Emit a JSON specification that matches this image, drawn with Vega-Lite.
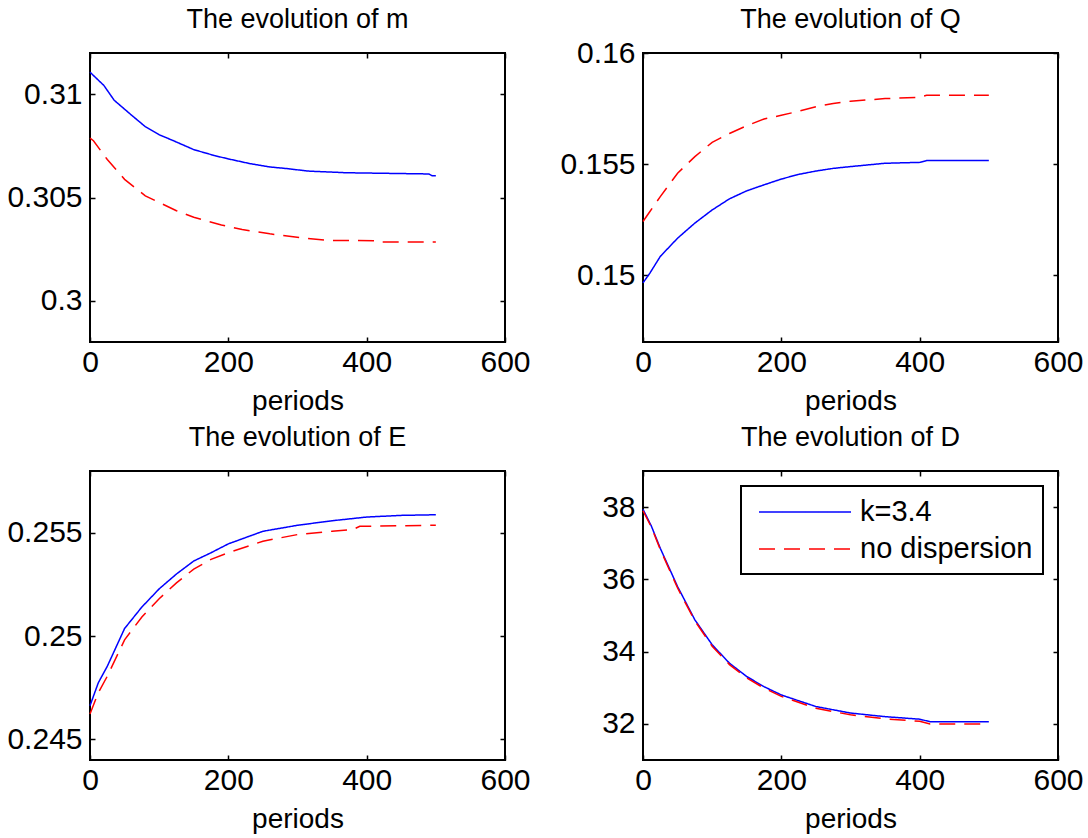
{
  "$schema": "https://vega.github.io/schema/vega-lite/v6.json",
  "background": "white",
  "padding": {"left": 5, "top": 5, "right": 5, "bottom": 2},
  "data": {"values": [
    {"v":"m","s":"k=3.4","t":0,"y":0.31107},{"v":"m","s":"k=3.4","t":20,"y":0.31043},{"v":"m","s":"k=3.4","t":35,"y":0.30971},{"v":"m","s":"k=3.4","t":60,"y":0.30899},{"v":"m","s":"k=3.4","t":80,"y":0.30843},{"v":"m","s":"k=3.4","t":100,"y":0.30804},{"v":"m","s":"k=3.4","t":120,"y":0.30776},{"v":"m","s":"k=3.4","t":150,"y":0.30732},{"v":"m","s":"k=3.4","t":180,"y":0.30703},{"v":"m","s":"k=3.4","t":200,"y":0.30687},{"v":"m","s":"k=3.4","t":230,"y":0.30665},{"v":"m","s":"k=3.4","t":260,"y":0.30648},{"v":"m","s":"k=3.4","t":285,"y":0.3064},{"v":"m","s":"k=3.4","t":315,"y":0.30628},{"v":"m","s":"k=3.4","t":370,"y":0.3062},{"v":"m","s":"k=3.4","t":490,"y":0.30614},{"v":"m","s":"k=3.4","t":495,"y":0.30605},{"v":"m","s":"k=3.4","t":500,"y":0.30605},
    {"v":"m","s":"no dispersion","t":0,"y":0.30788},{"v":"m","s":"no dispersion","t":5,"y":0.30775},{"v":"m","s":"no dispersion","t":25,"y":0.30684},{"v":"m","s":"no dispersion","t":50,"y":0.30588},{"v":"m","s":"no dispersion","t":80,"y":0.30508},{"v":"m","s":"no dispersion","t":100,"y":0.30476},{"v":"m","s":"no dispersion","t":125,"y":0.30436},{"v":"m","s":"no dispersion","t":150,"y":0.30404},{"v":"m","s":"no dispersion","t":190,"y":0.30367},{"v":"m","s":"no dispersion","t":220,"y":0.30345},{"v":"m","s":"no dispersion","t":260,"y":0.30324},{"v":"m","s":"no dispersion","t":305,"y":0.30305},{"v":"m","s":"no dispersion","t":345,"y":0.30292},{"v":"m","s":"no dispersion","t":415,"y":0.30291},{"v":"m","s":"no dispersion","t":420,"y":0.30284},{"v":"m","s":"no dispersion","t":500,"y":0.30284},
    {"v":"Q","s":"k=3.4","t":0,"y":0.14966},{"v":"Q","s":"k=3.4","t":10,"y":0.1501},{"v":"Q","s":"k=3.4","t":25,"y":0.15085},{"v":"Q","s":"k=3.4","t":50,"y":0.15167},{"v":"Q","s":"k=3.4","t":75,"y":0.15235},{"v":"Q","s":"k=3.4","t":100,"y":0.15294},{"v":"Q","s":"k=3.4","t":125,"y":0.15344},{"v":"Q","s":"k=3.4","t":150,"y":0.1538},{"v":"Q","s":"k=3.4","t":175,"y":0.15407},{"v":"Q","s":"k=3.4","t":200,"y":0.15433},{"v":"Q","s":"k=3.4","t":225,"y":0.15454},{"v":"Q","s":"k=3.4","t":250,"y":0.15469},{"v":"Q","s":"k=3.4","t":275,"y":0.15481},{"v":"Q","s":"k=3.4","t":300,"y":0.15489},{"v":"Q","s":"k=3.4","t":350,"y":0.15504},{"v":"Q","s":"k=3.4","t":400,"y":0.15508},{"v":"Q","s":"k=3.4","t":410,"y":0.15516},{"v":"Q","s":"k=3.4","t":500,"y":0.15517},
    {"v":"Q","s":"no dispersion","t":0,"y":0.15242},{"v":"Q","s":"no dispersion","t":10,"y":0.15287},{"v":"Q","s":"no dispersion","t":25,"y":0.15354},{"v":"Q","s":"no dispersion","t":50,"y":0.15459},{"v":"Q","s":"no dispersion","t":75,"y":0.15534},{"v":"Q","s":"no dispersion","t":100,"y":0.15598},{"v":"Q","s":"no dispersion","t":125,"y":0.15638},{"v":"Q","s":"no dispersion","t":150,"y":0.15673},{"v":"Q","s":"no dispersion","t":175,"y":0.15703},{"v":"Q","s":"no dispersion","t":200,"y":0.1572},{"v":"Q","s":"no dispersion","t":225,"y":0.15738},{"v":"Q","s":"no dispersion","t":250,"y":0.15758},{"v":"Q","s":"no dispersion","t":275,"y":0.15773},{"v":"Q","s":"no dispersion","t":300,"y":0.15783},{"v":"Q","s":"no dispersion","t":350,"y":0.15795},{"v":"Q","s":"no dispersion","t":400,"y":0.158},{"v":"Q","s":"no dispersion","t":410,"y":0.1581},{"v":"Q","s":"no dispersion","t":500,"y":0.1581},
    {"v":"E","s":"k=3.4","t":0,"y":0.24663},{"v":"E","s":"k=3.4","t":12,"y":0.24774},{"v":"E","s":"k=3.4","t":25,"y":0.24854},{"v":"E","s":"k=3.4","t":50,"y":0.25037},{"v":"E","s":"k=3.4","t":75,"y":0.25141},{"v":"E","s":"k=3.4","t":100,"y":0.25229},{"v":"E","s":"k=3.4","t":125,"y":0.25301},{"v":"E","s":"k=3.4","t":150,"y":0.25364},{"v":"E","s":"k=3.4","t":175,"y":0.25404},{"v":"E","s":"k=3.4","t":200,"y":0.25447},{"v":"E","s":"k=3.4","t":250,"y":0.25508},{"v":"E","s":"k=3.4","t":300,"y":0.25537},{"v":"E","s":"k=3.4","t":350,"y":0.25559},{"v":"E","s":"k=3.4","t":400,"y":0.25577},{"v":"E","s":"k=3.4","t":450,"y":0.25585},{"v":"E","s":"k=3.4","t":500,"y":0.25588},
    {"v":"E","s":"no dispersion","t":0,"y":0.24623},{"v":"E","s":"no dispersion","t":12,"y":0.24726},{"v":"E","s":"no dispersion","t":25,"y":0.24806},{"v":"E","s":"no dispersion","t":50,"y":0.24982},{"v":"E","s":"no dispersion","t":75,"y":0.25093},{"v":"E","s":"no dispersion","t":100,"y":0.25181},{"v":"E","s":"no dispersion","t":125,"y":0.25258},{"v":"E","s":"no dispersion","t":150,"y":0.25325},{"v":"E","s":"no dispersion","t":175,"y":0.25372},{"v":"E","s":"no dispersion","t":200,"y":0.25404},{"v":"E","s":"no dispersion","t":250,"y":0.2546},{"v":"E","s":"no dispersion","t":300,"y":0.25492},{"v":"E","s":"no dispersion","t":350,"y":0.25508},{"v":"E","s":"no dispersion","t":380,"y":0.25516},{"v":"E","s":"no dispersion","t":390,"y":0.25532},{"v":"E","s":"no dispersion","t":500,"y":0.25537},
    {"v":"D","s":"k=3.4","t":0,"y":37.94},{"v":"D","s":"k=3.4","t":12,"y":37.48},{"v":"D","s":"k=3.4","t":25,"y":36.86},{"v":"D","s":"k=3.4","t":50,"y":35.8},{"v":"D","s":"k=3.4","t":75,"y":34.88},{"v":"D","s":"k=3.4","t":100,"y":34.19},{"v":"D","s":"k=3.4","t":125,"y":33.68},{"v":"D","s":"k=3.4","t":150,"y":33.31},{"v":"D","s":"k=3.4","t":175,"y":33.03},{"v":"D","s":"k=3.4","t":200,"y":32.8},{"v":"D","s":"k=3.4","t":250,"y":32.48},{"v":"D","s":"k=3.4","t":300,"y":32.3},{"v":"D","s":"k=3.4","t":350,"y":32.2},{"v":"D","s":"k=3.4","t":400,"y":32.13},{"v":"D","s":"k=3.4","t":415,"y":32.06},{"v":"D","s":"k=3.4","t":500,"y":32.06},
    {"v":"D","s":"no dispersion","t":0,"y":37.9},{"v":"D","s":"no dispersion","t":12,"y":37.45},{"v":"D","s":"no dispersion","t":25,"y":36.83},{"v":"D","s":"no dispersion","t":50,"y":35.76},{"v":"D","s":"no dispersion","t":75,"y":34.85},{"v":"D","s":"no dispersion","t":100,"y":34.15},{"v":"D","s":"no dispersion","t":125,"y":33.64},{"v":"D","s":"no dispersion","t":150,"y":33.27},{"v":"D","s":"no dispersion","t":175,"y":32.99},{"v":"D","s":"no dispersion","t":200,"y":32.76},{"v":"D","s":"no dispersion","t":250,"y":32.43},{"v":"D","s":"no dispersion","t":300,"y":32.25},{"v":"D","s":"no dispersion","t":350,"y":32.14},{"v":"D","s":"no dispersion","t":400,"y":32.07},{"v":"D","s":"no dispersion","t":415,"y":32.0},{"v":"D","s":"no dispersion","t":500,"y":32.0}
  ]},
  "columns": 2,
  "spacing": {"row": 129, "column": 138},
  "bounds": "flush",
  "resolve": {"legend": {"color": "independent", "strokeDash": "independent"}},
  "concat": [
    {
      "width": 415, "height": 289,
      "title": {"text": "The evolution of m", "offset": 18},
      "transform": [{"filter": "datum.v === 'm'"}],
      "layer": [
        {"mark": {"type": "line", "strokeWidth": 1.5},
         "encoding": {
           "x": {"field": "t", "type": "quantitative", "scale": {"domain": [0, 600], "nice": false}, "axis": {"values": [0, 200, 400, 600], "title": "periods"}},
           "y": {"field": "y", "type": "quantitative", "scale": {"domain": [0.298, 0.312], "nice": false, "zero": false}, "axis": {"values": [0.3, 0.305, 0.31], "format": "~g", "title": null}},
           "color": {"field": "s", "type": "nominal", "scale": {"domain": ["k=3.4", "no dispersion"], "range": ["#0000ff", "#ff0000"]}, "legend": null},
           "strokeDash": {"field": "s", "type": "nominal", "scale": {"domain": ["k=3.4", "no dispersion"], "range": [[1, 0], [16, 9]]}, "legend": null}
         }},
        {"mark": {"type": "line", "opacity": 0},
         "encoding": {
           "x": {"field": "t", "type": "quantitative", "axis": {"orient": "top", "values": [0, 200, 400, 600], "labels": false, "title": null}},
           "y": {"field": "y", "type": "quantitative", "axis": {"orient": "right", "values": [0.3, 0.305, 0.31], "labels": false, "title": null}}
         }}
      ],
      "resolve": {"axis": {"x": "independent", "y": "independent"}}
    },
    {
      "width": 415, "height": 289,
      "title": {"text": "The evolution of Q", "offset": 4},
      "transform": [{"filter": "datum.v === 'Q'"}],
      "layer": [
        {"mark": {"type": "line", "strokeWidth": 1.5},
         "encoding": {
           "x": {"field": "t", "type": "quantitative", "scale": {"domain": [0, 600], "nice": false}, "axis": {"values": [0, 200, 400, 600], "title": "periods"}},
           "y": {"field": "y", "type": "quantitative", "scale": {"domain": [0.147, 0.16], "nice": false, "zero": false}, "axis": {"values": [0.15, 0.155, 0.16], "format": "~g", "title": null}},
           "color": {"field": "s", "type": "nominal", "scale": {"domain": ["k=3.4", "no dispersion"], "range": ["#0000ff", "#ff0000"]}, "legend": null},
           "strokeDash": {"field": "s", "type": "nominal", "scale": {"domain": ["k=3.4", "no dispersion"], "range": [[1, 0], [16, 9]]}, "legend": null}
         }},
        {"mark": {"type": "line", "opacity": 0},
         "encoding": {
           "x": {"field": "t", "type": "quantitative", "axis": {"orient": "top", "values": [0, 200, 400, 600], "labels": false, "title": null}},
           "y": {"field": "y", "type": "quantitative", "axis": {"orient": "right", "values": [0.15, 0.155, 0.16], "labels": false, "title": null}}
         }}
      ],
      "resolve": {"axis": {"x": "independent", "y": "independent"}}
    },
    {
      "width": 415, "height": 289,
      "title": {"text": "The evolution of E", "offset": 18},
      "transform": [{"filter": "datum.v === 'E'"}],
      "layer": [
        {"mark": {"type": "line", "strokeWidth": 1.5},
         "encoding": {
           "x": {"field": "t", "type": "quantitative", "scale": {"domain": [0, 600], "nice": false}, "axis": {"values": [0, 200, 400, 600], "title": "periods"}},
           "y": {"field": "y", "type": "quantitative", "scale": {"domain": [0.244, 0.258], "nice": false, "zero": false}, "axis": {"values": [0.245, 0.25, 0.255], "format": "~g", "title": null}},
           "color": {"field": "s", "type": "nominal", "scale": {"domain": ["k=3.4", "no dispersion"], "range": ["#0000ff", "#ff0000"]}, "legend": null},
           "strokeDash": {"field": "s", "type": "nominal", "scale": {"domain": ["k=3.4", "no dispersion"], "range": [[1, 0], [16, 9]]}, "legend": null}
         }},
        {"mark": {"type": "line", "opacity": 0},
         "encoding": {
           "x": {"field": "t", "type": "quantitative", "axis": {"orient": "top", "values": [0, 200, 400, 600], "labels": false, "title": null}},
           "y": {"field": "y", "type": "quantitative", "axis": {"orient": "right", "values": [0.245, 0.25, 0.255], "labels": false, "title": null}}
         }}
      ],
      "resolve": {"axis": {"x": "independent", "y": "independent"}}
    },
    {
      "width": 415, "height": 289,
      "title": {"text": "The evolution of D", "offset": 18},
      "transform": [{"filter": "datum.v === 'D'"}],
      "layer": [
        {"mark": {"type": "line", "strokeWidth": 1.5},
         "encoding": {
           "x": {"field": "t", "type": "quantitative", "scale": {"domain": [0, 600], "nice": false}, "axis": {"values": [0, 200, 400, 600], "title": "periods"}},
           "y": {"field": "y", "type": "quantitative", "scale": {"domain": [31, 39], "nice": false, "zero": false}, "axis": {"values": [32, 34, 36, 38], "title": null}},
           "color": {"field": "s", "type": "nominal", "scale": {"domain": ["k=3.4", "no dispersion"], "range": ["#0000ff", "#ff0000"]},
             "legend": {"title": null, "orient": "top-right", "offset": 15, "symbolType": "M-0.533,0H5.6", "symbolSize": 900, "symbolStrokeWidth": 1.5, "labelFontSize": 29, "labelColor": "black", "labelFont": "Liberation Sans", "labelLimit": 400, "labelOffset": 77, "padding": 10, "rowPadding": 6, "fillColor": "white", "strokeColor": "black",
               "encode": {"legend": {"update": {"strokeWidth": {"value": 2}}}}}},
           "strokeDash": {"field": "s", "type": "nominal", "scale": {"domain": ["k=3.4", "no dispersion"], "range": [[1, 0], [16, 9]]},
             "legend": {"title": null, "orient": "top-right", "offset": 15, "symbolType": "M-0.533,0H5.6", "symbolSize": 900, "symbolStrokeWidth": 1.5, "labelFontSize": 29, "labelColor": "black", "labelFont": "Liberation Sans", "labelLimit": 400, "labelOffset": 77, "padding": 10, "rowPadding": 6, "fillColor": "white", "strokeColor": "black",
               "encode": {"legend": {"update": {"strokeWidth": {"value": 2}}}}}}
         }},
        {"mark": {"type": "line", "opacity": 0},
         "encoding": {
           "x": {"field": "t", "type": "quantitative", "axis": {"orient": "top", "values": [0, 200, 400, 600], "labels": false, "title": null}},
           "y": {"field": "y", "type": "quantitative", "axis": {"orient": "right", "values": [32, 34, 36, 38], "labels": false, "title": null}}
         }}
      ],
      "resolve": {"axis": {"x": "independent", "y": "independent"}}
    }
  ],
  "config": {
    "font": "Liberation Sans",
    "view": {"stroke": "black", "strokeWidth": 2},
    "axis": {"grid": false, "domain": false, "labelFontSize": 30, "labelColor": "black", "labelFont": "Liberation Sans", "tickColor": "black", "tickSize": -5, "tickWidth": 1.5, "titleFontSize": 28, "titleFontWeight": "normal", "titleColor": "black", "titleFont": "Liberation Sans", "titlePadding": 10, "labelFlush": false, "labelOverlap": false},
    "axisX": {"labelPadding": 10},
    "axisY": {"labelPadding": 13},
    "title": {"fontSize": 27, "fontWeight": "normal", "font": "Liberation Sans", "color": "black", "baseline": "alphabetic", "frame": "group"}
  }
}
